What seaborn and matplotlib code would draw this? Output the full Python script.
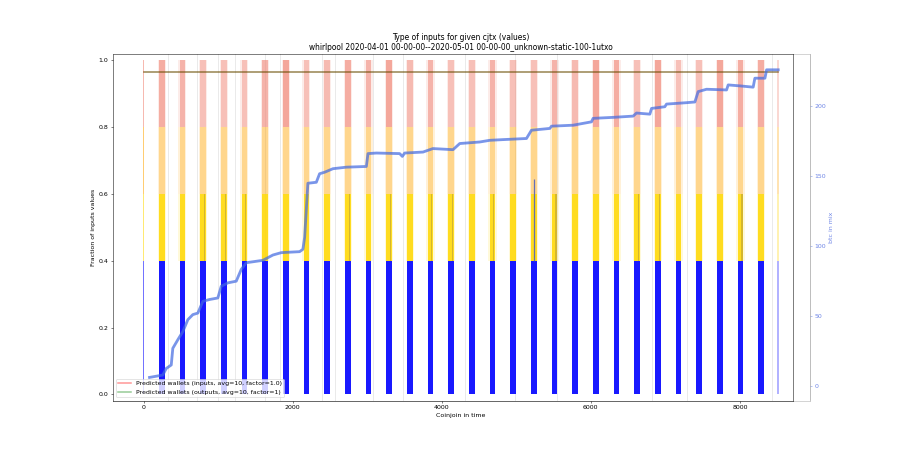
import matplotlib
matplotlib.use('Agg')
import matplotlib.pyplot as plt
import matplotlib.colors as mcolors
import pandas as pd
import seaborn as sns

# coinjoin index of each bar group
bar_x = [244, 521, 799, 1076, 1353, 1631, 1908, 2185, 2462, 2740,
         3017, 3294, 3572, 3849, 4126, 4404, 4681, 4958, 5235, 5513,
         5790, 6067, 6345, 6622, 6899, 7176, 7454, 7731, 8008, 8286]
# first and last (thin, faded) bars
edge_x = [0, 8510]

# fraction of inputs per input type (stacked from bottom)
type_fractions = [0.4, 0.2, 0.2, 0.2]

# how dense the top segment looks in each group
top_alpha = [0.58, 0.52, 0.4, 0.4, 0.4, 0.52, 0.64, 0.4, 0.46, 0.58,
             0.52, 0.64, 0.46, 0.52, 0.4, 0.4, 0.52, 0.4, 0.4, 0.52,
             0.46, 0.64, 0.58, 0.4, 0.64, 0.4, 0.4, 0.64, 0.58, 0.58]
# groups with darker streaks in the gold segment
streak_groups = [2, 3, 4, 9, 11, 13, 14, 16, 19, 23, 24, 28]

# faint vertical lines
faint_x = [322, 711, 993, 1221, 1624, 1826, 2389, 2564, 3074, 3477,
           4309, 4980, 5544, 6819, 7289, 8430]

# btc in mix (right axis)
btc_x = [81, 259, 305, 372, 393, 460, 528, 595, 662, 729,
         796, 886, 997, 1043, 1132, 1244, 1311, 1379, 1601, 1736,
         1848, 2094, 2138, 2161, 2205, 2318, 2362, 2430, 2541, 2721,
         2989, 3011, 3123, 3436, 3472, 3503, 3749, 3839, 3883, 4152,
         4242, 4510, 4644, 4823, 5137, 5204, 5450,
         5473, 5762, 6009, 6031, 6299, 6568, 6613, 6792, 6815, 6993,
         7016, 7285, 7396, 7440, 7553, 7821, 7843, 8000, 8178, 8201,
         8336, 8358, 8514]
btc_y = [6.0, 7.7, 12.4, 14.9, 26.8, 32.9, 38.8, 47.3, 50.9, 52.0,
         60.4, 61.7, 62.8, 71.2, 73.6, 74.8, 83.2, 88.0, 89.7, 93.5,
         95.2, 95.9, 97.6, 106, 144.8, 145.5, 151.6, 152.7, 155.2, 156.3,
         156.8, 166, 166.4, 166, 164, 166.4, 167.1, 168.8, 169.6, 168.8,
         173.2, 174.3, 175.5, 176, 176.8, 182.7, 184,
         185.6, 186.3, 188.7, 191.2, 191.9, 192.8, 195, 194.2, 198.3, 199.5,
         201.4, 202.4, 202.9, 210.3, 212, 211.5, 215.1, 214.4, 213.5, 219.9,
         219.9, 225.9, 225.9]

# thin dark spike inside one bar group
spike_x = [5240]
spike_lo = [0.4]
spike_hi = [0.645]

# predicted wallets lines
wallets_x = [0, 8510]
wallets_in = [0.964, 0.964]
wallets_out = [0.964, 0.964]

type_colors = ['blue', 'gold', 'orange', '#f08070']
type_alpha = [0.9, 0.85, 0.35, None]

fig = plt.figure(figsize=(20, 10), dpi=45)

# outer frame (wider box, carries title)
frame = fig.add_axes([0.125, 0.11, 0.775, 0.77], zorder=0)
frame.set_xticks([])
frame.set_yticks([])
for s in frame.spines.values():
    s.set_color('#aaaaaa')
frame.set_title('Type of inputs for given cjtx (values)\n'
                'whirlpool 2020-04-01 00-00-00--2020-05-01 00-00-00_unknown-static-100-1utxo')

ax = fig.add_axes([0.125, 0.11, 0.756, 0.77], zorder=1)

for fx in faint_x:
    ax.axvline(fx, color='lightgray', alpha=0.5, lw=1.5, zorder=0)

bottom = 0.0
for i, frac in enumerate(type_fractions):
    if type_alpha[i] is None:
        cols = [mcolors.to_rgba(type_colors[i], a) for a in top_alpha]
    else:
        cols = [mcolors.to_rgba(type_colors[i], type_alpha[i])] * len(bar_x)
    if i > 0:
        ax.bar(bar_x, [frac] * len(bar_x), width=110, bottom=bottom,
               color=type_colors[i], alpha=0.15, lw=0)
    ax.bar(bar_x, [frac] * len(bar_x), width=76, bottom=bottom, color=cols, lw=0)
    # edge bars
    ax.bar(edge_x[0], frac, width=18, bottom=bottom, color=type_colors[i], alpha=0.55, lw=0)
    ax.bar(edge_x[1], frac, width=25, bottom=bottom, color=type_colors[i], alpha=0.3, lw=0)
    bottom += frac

streak_x = [bar_x[g] + 20 for g in streak_groups]
ax.bar(streak_x, [type_fractions[1]] * len(streak_x), width=14,
       bottom=type_fractions[0], color='#a08840', alpha=0.45, lw=0)

l_in, = ax.plot(wallets_x, wallets_in, color='red', alpha=0.4, lw=2.5,
                label='Predicted wallets (inputs, avg=10, factor=1.0)')
l_out, = ax.plot(wallets_x, wallets_out, color='green', alpha=0.4, lw=2.5,
                 label='Predicted wallets (outputs, avg=10, factor=1)')

ax.set_xlim(-416, 8711)
ax.set_ylim(-0.018, 1.018)
ax.set_ylabel('Fraction of inputs values')
ax.set_xlabel('Coinjoin in time')
ax.xaxis.set_label_coords(0.512, -0.035)

ax2 = ax.twinx()
btc = pd.DataFrame({'cj': btc_x, 'btc': btc_y})
sns.lineplot(data=btc, x='cj', y='btc', ax=ax2, color='royalblue', alpha=0.7,
             lw=4.5, estimator=None, sort=False)
ax2.set_ylim(-10.5, 237.2)
ax2.spines['right'].set_position(('axes', 1.025))
ax2.spines['right'].set_color('#aaaaaa')
ax2.spines['top'].set_visible(False)
ax2.spines['left'].set_visible(False)
ax2.spines['bottom'].set_visible(False)
ax2.tick_params(axis='y', colors='#6f86e6')
ax2.set_ylabel('btc in mix', color='#6f86e6')
ax2.set_xlabel('')

ax.vlines(spike_x, spike_lo, spike_hi, color='#4a5cc0', lw=2, alpha=0.85, zorder=3)

ax2.legend(handles=[l_in, l_out], loc='lower left')

fig.savefig('out.png', dpi=45)
